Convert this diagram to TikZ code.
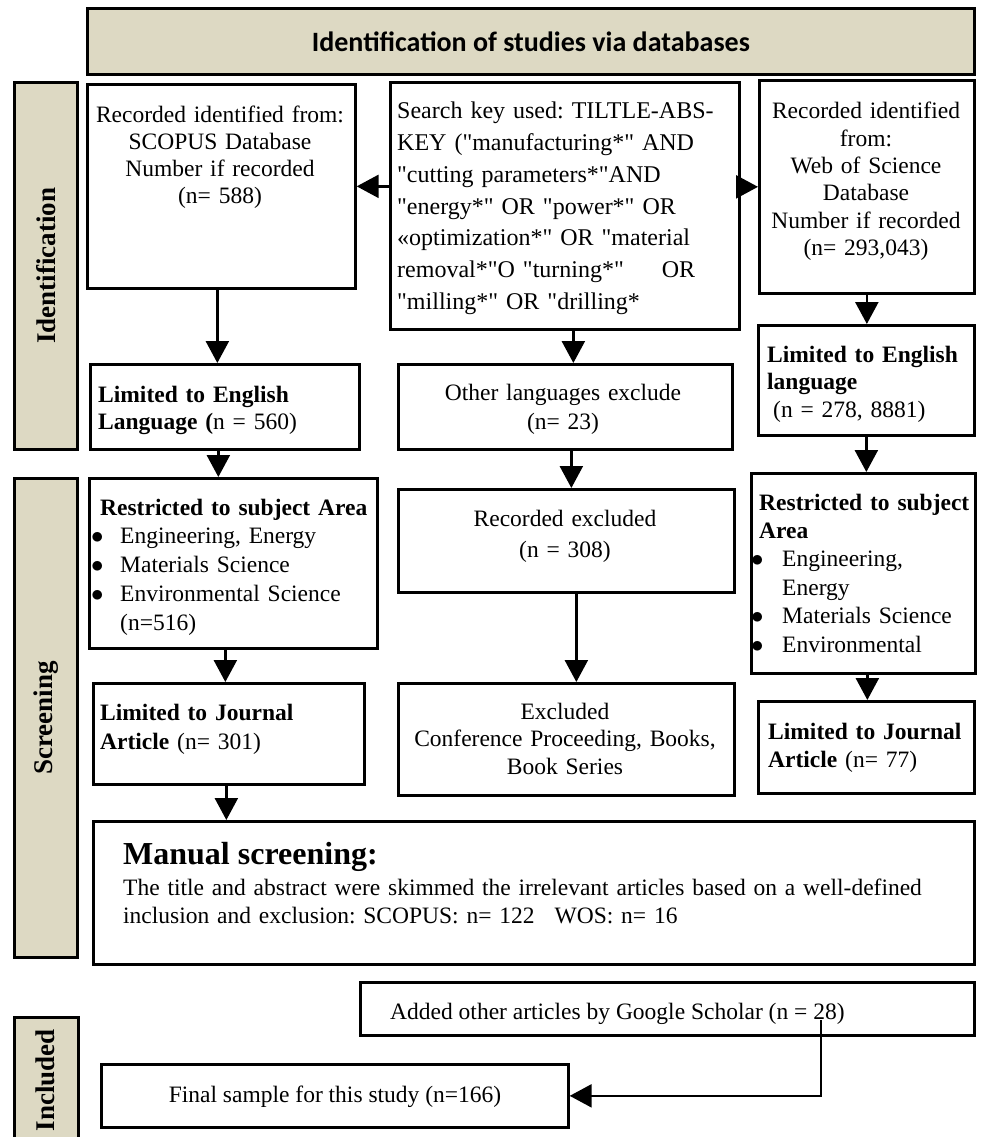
\documentclass[tikz,border=0pt]{standalone}
\usepackage{fontspec}
\setmainfont{Liberation Serif}
\newfontfamily\tnr{Liberation Serif}
\newfontfamily\calib{Carlito}
\usetikzlibrary{arrows.meta}
\definecolor{beige}{RGB}{221,217,195}
\newcommand\flowbox[6][boxst]{\node[#1, anchor=north west, minimum width={#5-#3}, minimum height={#6-#4}] (#2) at (#3,#4) {};}
\newcommand\bul{$\bullet$}
\frenchspacing
\begin{document}
\frenchspacing
\begin{tikzpicture}[x=1pt,y=-1pt,
  boxst/.style={draw=black, line width=2.7pt, inner sep=0pt, fill=white},
  barst/.style={draw=black, line width=2.7pt, inner sep=0pt, fill=beige},
  txt/.style={inner sep=0pt, font=\frenchspacing\fontsize{23.5pt}{27.3pt}\selectfont},
  side/.style={inner sep=0pt, rotate=90, font=\bfseries\fontsize{27pt}{30pt}\selectfont},
  arr/.style={line width=2.5pt, -{Triangle[width=23pt,length=22pt]}},
]
\clip (0,0) rectangle (984,1137);
\fill[white] (0,0) rectangle (984,1137);

% ---- boxes ----
\flowbox[barst]{title}{86}{7}{973}{73}
\flowbox[barst]{idbar}{13}{81}{76}{448}
\flowbox[barst]{scbar}{13}{477}{76}{956}
\flowbox[barst]{inbar}{13}{1016}{77}{1160}
\flowbox{scopus}{86}{83}{354}{287}
\flowbox{search}{389}{81}{738}{328}
\flowbox{wos}{758}{79}{973}{292}
\flowbox{engL}{89}{363}{358}{448}
\flowbox{other}{397}{363}{731}{448}
\flowbox{engR}{757}{324}{973}{434}
\flowbox{restrL}{88}{477}{376}{647}
\flowbox{recex}{397}{488}{733}{591}
\flowbox{restrR}{750}{472}{974}{672}
\flowbox{jourL}{92}{682}{363}{783}
\flowbox{exconf}{397}{682}{733}{794}
\flowbox{jourR}{757}{700}{973}{792}
\flowbox{manual}{92}{820}{973}{963}
\flowbox{google}{359}{981}{973}{1034}
\flowbox{final}{100}{1063}{567}{1126}

% ---- texts ----
\node[inner sep=0pt, font=\calib\bfseries\fontsize{28pt}{30pt}\selectfont] (titleT) at (title) {Identification of studies via databases};
\node[side] (idT) at (idbar) {Identification};
\node[side] (scT) at (scbar) {Screening};
\node[side] (inT) at (45,1080) {Included};

\node[txt, anchor=base, text width=262pt, align=center] (scopusT) at (220,122)
  {Recorded identified from:\\SCOPUS Database\\Number if recorded\\(n= 588)};
\node[txt, anchor=base west, text width=338pt, align=left, font=\tnr\frenchspacing\fontsize{24pt}{31.7pt}\selectfont] (searchT) at (397,119)
  {Search key used: TILTLE-ABS-\\KEY ("manufacturing*" AND\\"cutting parameters*"AND\\"energy*" OR "power*" OR\\«optimization*" OR "material\\removal*"O "turning*"\hspace{38pt}OR\\"milling*" OR "drilling*};
\node[txt, anchor=base, text width=212pt, align=center] (wosT) at (866,119)
  {Recorded identified\\from:\\Web of Science\\Database\\Number if recorded\\(n= 293,043)};
\node[txt, anchor=base west, text width=262pt, align=left] (engLT) at (98,402)
  {\textbf{Limited to English}\\\textbf{Language (}n = 560)};
\node[txt, anchor=base, text width=330pt, align=center, font=\frenchspacing\fontsize{23.5pt}{29pt}\selectfont] (otherT) at (563,400)
  {Other languages exclude\\(n= 23)};
\node[txt, anchor=base west, text width=205pt, align=left, font=\frenchspacing\fontsize{23.5pt}{27.5pt}\selectfont] (engRT) at (767,362)
  {\textbf{Limited to English}\\\textbf{language}\\\hspace*{6pt}(n = 278, 8881)};
\node[txt, anchor=base west, text width=280pt, align=left, font=\frenchspacing\fontsize{23.5pt}{28.75pt}\selectfont] (restrLT) at (100,515)
  {\textbf{Restricted to subject Area}\\
   \hspace*{-9pt}\makebox[29pt][l]{\bul}Engineering, Energy\\
   \hspace*{-9pt}\makebox[29pt][l]{\bul}Materials Science\\
   \hspace*{-9pt}\makebox[29pt][l]{\bul}Environmental Science\\
   \hspace*{20pt}(n=516)};
\node[txt, anchor=base, text width=330pt, align=center, font=\frenchspacing\fontsize{23.5pt}{31pt}\selectfont] (recexT) at (565,526)
  {Recorded excluded\\(n = 308)};
\node[txt, anchor=base west, text width=220pt, align=left, font=\frenchspacing\fontsize{23.5pt}{28.4pt}\selectfont] (restrRT) at (759,510)
  {\textbf{Restricted to subject}\\\textbf{Area}\\
   \hspace*{-8pt}\makebox[31pt][l]{\bul}Engineering,\\
   \hspace*{23pt}Energy\\
   \hspace*{-8pt}\makebox[31pt][l]{\bul}Materials Science\\
   \hspace*{-8pt}\makebox[31pt][l]{\bul}Environmental};
\node[txt, anchor=base west, text width=260pt, align=left, font=\frenchspacing\fontsize{23.5pt}{29pt}\selectfont] (jourLT) at (100,720)
  {\textbf{Limited to Journal}\\\textbf{Article} (n= 301)};
\node[txt, anchor=base, text width=330pt, align=center, font=\frenchspacing\fontsize{23.5pt}{27.5pt}\selectfont] (exconfT) at (565,719)
  {Excluded\\Conference Proceeding, Books,\\Book Series};
\node[txt, anchor=base west, text width=205pt, align=left, font=\frenchspacing\fontsize{23.5pt}{28pt}\selectfont] (jourRT) at (768,739)
  {\textbf{Limited to Journal}\\\textbf{Article} (n= 77)};
\node[inner sep=0pt, anchor=base west, font=\bfseries\fontsize{32pt}{34pt}\selectfont] (manualH) at (123,864) {Manual screening:};
\node[txt, anchor=base west, text width=840pt, align=left, font=\frenchspacing\fontsize{23.5pt}{28pt}\selectfont] (manualT) at (123,895)
  {The title and abstract were skimmed the irrelevant articles based on a well-defined\\inclusion and exclusion: SCOPUS: n= 122\hspace{20pt}WOS: n= 16};
\node[txt, anchor=base west] (googleT) at (390,1019) {Added other articles by Google Scholar (n = 28)};
\node[txt, anchor=base] (finalT) at (335,1102) {Final sample for this study (n=166)};

% ---- connectors ----
\draw[arr] (search.west |- scopus.east) -- (scopus.east);
\draw[arr] (search.east |- wos.west) -- (wos.west);
\draw[arr] ([xshift=-4pt]scopus.south) -- ([xshift=-4pt]scopus.south |- engL.north);
\draw[arr] ([xshift=8.5pt]search.south) -- ([xshift=8.5pt]search.south |- other.north);
\draw[arr] (wos.south) -- (wos.south |- engR.north);
\draw[arr] ([xshift=-6.5pt]engL.south) -- ([xshift=-6.5pt]engL.south |- restrL.north);
\draw[arr] ([xshift=6pt]other.south) -- ([xshift=6pt]other.south |- recex.north);
\draw[arr] (engR.south) -- (engR.south |- restrR.north);
\draw[arr] ([xshift=-8pt]restrL.south) -- ([xshift=-8pt]restrL.south |- jourL.north);
\draw[arr] ([xshift=10pt]recex.south) -- ([xshift=10pt]recex.south |- exconf.north);
\draw[arr] ([xshift=4pt]restrR.south) -- ([xshift=4pt]restrR.south |- jourR.north);
\draw[arr] ([xshift=-2.5pt]jourL.south) -- ([xshift=-2.5pt]jourL.south |- manual.north);
\coordinate (gstart) at (821,1020);
\draw[arr] (gstart) |- (final.east);
\end{tikzpicture}
\end{document}
